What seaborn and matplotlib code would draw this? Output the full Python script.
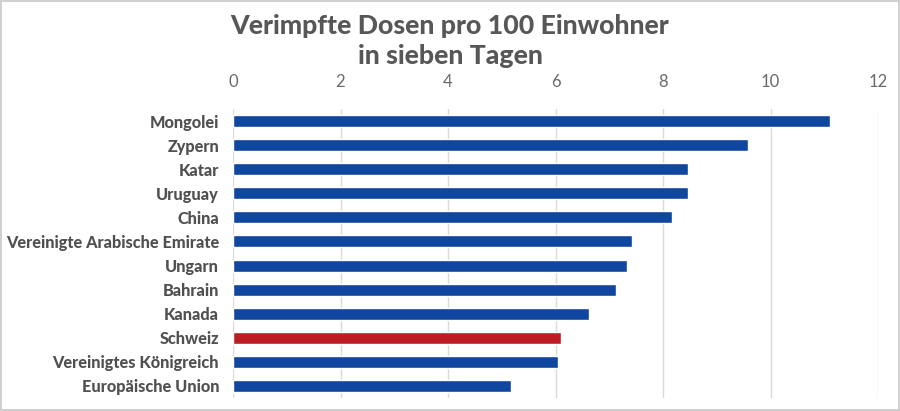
import matplotlib
matplotlib.use("Agg")
import matplotlib.pyplot as plt
import pandas as pd
import seaborn as sns

countries = [
    "Mongolei",
    "Zypern",
    "Katar",
    "Uruguay",
    "China",
    "Vereinigte Arabische Emirate",
    "Ungarn",
    "Bahrain",
    "Kanada",
    "Schweiz",
    "Vereinigtes Königreich",
    "Europäische Union",
]
doses = [11.11, 9.58, 8.47, 8.47, 8.17, 7.42, 7.33, 7.13, 6.63, 6.10, 6.05, 5.18]
highlight = "Schweiz"
x_ticks = [0, 2, 4, 6, 8, 10, 12]

BLUE = "#0F469F"
RED = "#BD1E24"


def main():
    df = pd.DataFrame({"land": countries, "dosen": doses})
    df["gruppe"] = ["ch" if c == highlight else "other" for c in df["land"]]

    sns.set_theme(style="white")
    plt.rcParams["font.family"] = ["Lato", "DejaVu Sans"]

    fig = plt.figure(figsize=(9, 4.11), dpi=100)
    fig.patch.set_edgecolor("#D0D0D0")
    fig.patch.set_linewidth(1.5)
    ax = fig.add_axes([233 / 900, 1 - 398 / 411, 645 / 900, 289 / 411])

    sns.barplot(
        data=df,
        x="dosen",
        y="land",
        hue="gruppe",
        palette={"other": BLUE, "ch": RED},
        saturation=1,
        orient="h",
        width=0.5,
        dodge=False,
        legend=False,
        ax=ax,
        zorder=3,
    )

    ax.set_xlim(0, 12)
    ax.set_xticks(x_ticks)
    ax.xaxis.tick_top()
    ax.tick_params(axis="x", length=0, pad=14, labelsize=12, labelcolor="#6A6A6A")
    ax.tick_params(axis="y", length=0, pad=10)
    for lbl in ax.get_yticklabels():
        lbl.set_fontweight("black")
        lbl.set_fontsize(11.7)
        lbl.set_color("#505050")

    ax.grid(axis="x", color="#DADADA", linewidth=1, zorder=0)
    for side in ["top", "right", "bottom", "left"]:
        ax.spines[side].set_visible(False)
    ax.set_xlabel("")
    ax.set_ylabel("")

    fig.text(
        0.5,
        1 - 41 / 411,
        "Verimpfte Dosen pro 100 Einwohner\nin sieben Tagen",
        ha="center",
        va="center",
        fontsize=19.2,
        fontweight="black",
        color="#575757",
        linespacing=1.25,
    )

    fig.savefig("out.png", dpi=100)
    plt.close(fig)


if __name__ == "__main__":
    main()
